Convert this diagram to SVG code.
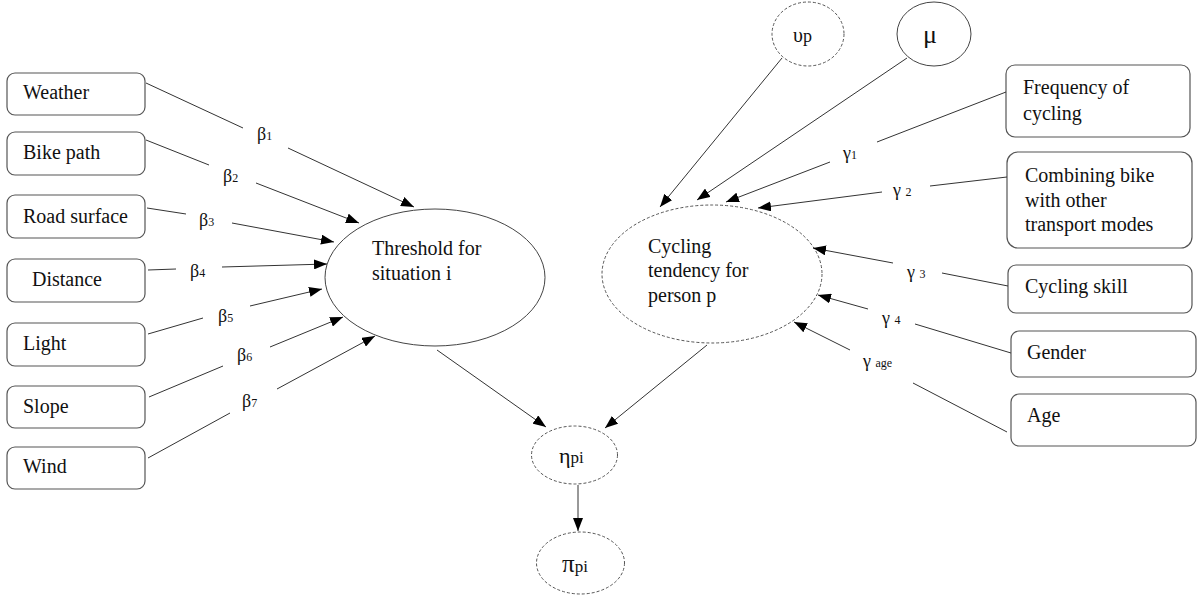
<svg xmlns="http://www.w3.org/2000/svg" width="1197" height="603" viewBox="0 0 1197 603" font-family="'Liberation Serif', 'Times New Roman', Times, serif">
<style>
.box{fill:#fff;stroke:#555;stroke-width:1.2}
.sol{fill:#fff;stroke:#444;stroke-width:1}
.dash{fill:#fff;stroke:#555;stroke-width:1;stroke-dasharray:3 2}
text{fill:#111}
.t{font-size:20px}
.g{font-size:18px}
.s{font-size:12px}
.c line{stroke:#333;stroke-width:1}
.c .a{marker-end:url(#ah)}
</style>
<defs>
<marker id="ah" markerUnits="userSpaceOnUse" markerWidth="13" markerHeight="10" refX="13" refY="5" orient="auto">
<path d="M0,0 L13,5 L0,10 z" fill="#000"/>
</marker>
</defs>
<rect width="1197" height="603" fill="#fff"/>

<g id="weather"><rect class="box" x="7" y="73" width="138" height="42" rx="8"/><text class="t" x="23" y="99">Weather</text></g>
<g id="bikepath"><rect class="box" x="7" y="132" width="138" height="43" rx="8"/><text class="t" x="23" y="159">Bike path</text></g>
<g id="roadsurface"><rect class="box" x="7" y="195" width="138" height="43" rx="8"/><text class="t" x="23" y="223">Road surface</text></g>
<g id="distance"><rect class="box" x="7" y="259" width="138" height="43" rx="8"/><text class="t" x="32" y="286">Distance</text></g>
<g id="light"><rect class="box" x="7" y="323" width="138" height="43" rx="8"/><text class="t" x="23" y="350">Light</text></g>
<g id="slope"><rect class="box" x="7" y="386" width="138" height="42" rx="8"/><text class="t" x="23" y="413">Slope</text></g>
<g id="wind"><rect class="box" x="7" y="447" width="138" height="42" rx="8"/><text class="t" x="23" y="473">Wind</text></g>

<g id="threshold"><ellipse class="sol" cx="435" cy="277.5" rx="110" ry="68.5"/><text class="t" x="372" y="255">Threshold for</text><text class="t" x="372" y="280">situation i</text></g>
<g id="cycling"><ellipse class="dash" cx="712" cy="274" rx="110" ry="69"/><text class="t" x="648" y="253">Cycling</text><text class="t" x="648" y="277">tendency for</text><text class="t" x="648" y="302">person p</text></g>

<g id="upsilon"><ellipse class="dash" cx="808" cy="34" rx="36" ry="32"/><text x="793" y="42" font-size="20">υ<tspan font-size="18">p</tspan></text></g>
<g id="mu"><ellipse class="sol" cx="934" cy="34" rx="37" ry="32"/><text x="923" y="43" font-size="26">μ</text></g>

<g id="eta"><ellipse class="dash" cx="574.5" cy="455" rx="43" ry="29"/><text x="559" y="463" font-size="22">η<tspan font-size="17">pi</tspan></text></g>
<g id="pi"><ellipse class="dash" cx="580.5" cy="563" rx="44" ry="31"/><text x="562" y="572" font-size="25">π<tspan font-size="17">pi</tspan></text></g>

<g id="frequency"><rect class="box" x="1006" y="65" width="184" height="72" rx="9"/><text class="t" x="1023" y="94">Frequency of</text><text class="t" x="1023" y="120">cycling</text></g>
<g id="combining"><rect class="box" x="1007" y="152" width="185" height="96" rx="11"/><text class="t" x="1025" y="182">Combining bike</text><text class="t" x="1025" y="207">with other</text><text class="t" x="1025" y="231">transport modes</text></g>
<g id="skill"><rect class="box" x="1008" y="265" width="184" height="48" rx="8"/><text class="t" x="1025" y="293">Cycling skill</text></g>
<g id="gender"><rect class="box" x="1011" y="331" width="185" height="46" rx="8"/><text class="t" x="1027" y="359">Gender</text></g>
<g id="age"><rect class="box" x="1011" y="394" width="185" height="52" rx="8"/><text class="t" x="1027" y="422">Age</text></g>

<g id="connectors" class="c">
<line x1="146" y1="83" x2="243" y2="128"/><line class="a" x1="288" y1="148" x2="414" y2="207"/>
<line x1="146" y1="140" x2="209" y2="165"/><line class="a" x1="256" y1="183" x2="359" y2="223"/>
<line x1="147" y1="208" x2="186" y2="214"/><line class="a" x1="232" y1="223" x2="334" y2="242"/>
<line x1="148" y1="270" x2="176" y2="269"/><line class="a" x1="222" y1="267" x2="327" y2="264"/>
<line x1="148" y1="334" x2="203" y2="318"/><line class="a" x1="250" y1="306" x2="322" y2="289"/>
<line x1="149" y1="397" x2="223" y2="366"/><line class="a" x1="270" y1="347" x2="343" y2="317"/>
<line x1="148" y1="458" x2="230" y2="413"/><line class="a" x1="277" y1="389" x2="375" y2="336"/>

<line class="a" x1="782" y1="58" x2="660" y2="207"/>
<line class="a" x1="907" y1="58" x2="697" y2="200"/>
<line x1="1006" y1="92" x2="877" y2="142"/><line class="a" x1="830" y1="162" x2="726" y2="202"/>
<line x1="1007" y1="177" x2="930" y2="186"/><line class="a" x1="882" y1="192" x2="758" y2="208"/>
<line x1="1008" y1="286" x2="942" y2="273"/><line class="a" x1="893" y1="263" x2="813" y2="248"/>
<line x1="1011" y1="353" x2="915" y2="324"/><line class="a" x1="868" y1="309" x2="818" y2="295"/>
<line x1="1007" y1="432" x2="913" y2="383"/><line class="a" x1="850" y1="350" x2="794" y2="322"/>

<line class="a" x1="437" y1="350" x2="546" y2="427"/>
<line class="a" x1="707" y1="345" x2="605" y2="428"/>
<line class="a" x1="578" y1="485" x2="578" y2="531"/>
</g>

<g id="labels">
<text class="g" x="257" y="140">β<tspan class="s">1</tspan></text>
<text class="g" x="223" y="182">β<tspan class="s">2</tspan></text>
<text class="g" x="199" y="226">β<tspan class="s">3</tspan></text>
<text class="g" x="190" y="277">β<tspan class="s">4</tspan></text>
<text class="g" x="218" y="322">β<tspan class="s">5</tspan></text>
<text class="g" x="237" y="361">β<tspan class="s">6</tspan></text>
<text class="g" x="242" y="407">β<tspan class="s">7</tspan></text>
<text class="g" x="843" y="159">γ<tspan class="s">1</tspan></text>
<text class="g" x="893" y="196">γ <tspan class="s">2</tspan></text>
<text class="g" x="907" y="278">γ <tspan class="s">3</tspan></text>
<text class="g" x="882" y="324">γ <tspan class="s">4</tspan></text>
<text class="g" x="863" y="367">γ <tspan class="s">age</tspan></text>
</g>
</svg>
